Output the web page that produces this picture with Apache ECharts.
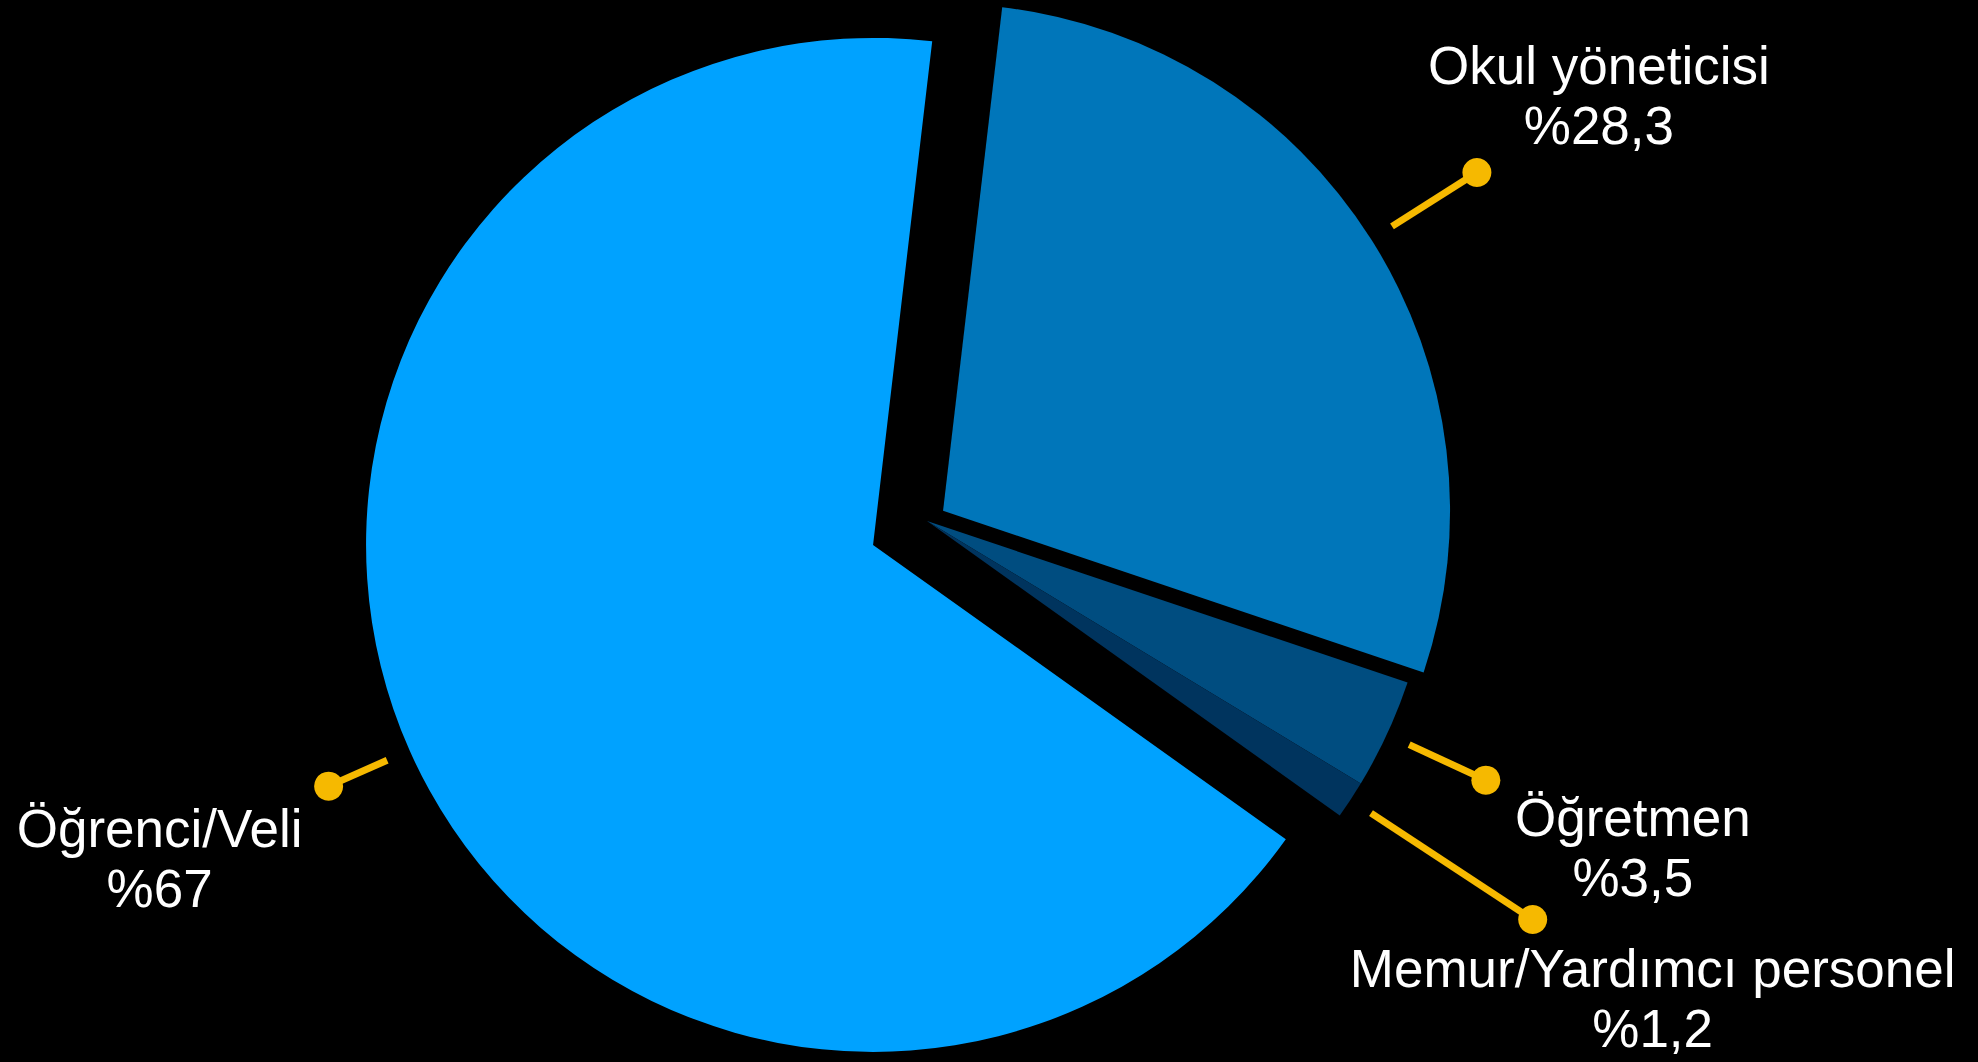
<!DOCTYPE html>
<html>
<head>
<meta charset="utf-8">
<script src="https://cdn.jsdelivr.net/npm/echarts@6/dist/echarts.min.js"></script>
<style>
  html, body { margin: 0; padding: 0; background: #000; }
  #chart { width: 1978px; height: 1062px; }
</style>
</head>
<body>
<div id="chart"></div>
<script>
// ---- data ----
const categories = ['Okul yöneticisi', 'Öğretmen', 'Memur/Yardımcı personel', 'Öğrenci/Veli'];
const values = [28.3, 3.5, 1.2, 67];
const colors = ['#0076BA', '#004D80', '#00345E', '#00A2FF'];

// ---- layout / style ----
const CENTER = [927, 521];
const RADIUS = 507;
const START = 6.7;                       // degrees clockwise from 12 o'clock
const explode = [19, 0, 0, 59];          // slice offsets (px)
const leaderStart = 531.5;
const leaderEnd = [632, 616, 725, 595.5];
const labelOffset = [[122, -107], [147, 37], [120, 49], [-169, 42]];
const LINE_GAP = 60;
const GOLD = '#F6B900';
const FONT = '53px "Liberation Sans", Arial, sans-serif';

const total = values.reduce((a, b) => a + b, 0);
function fmt(v) { return '%' + String(v).replace('.', ','); }
function geom(i) {
  let cum = 0;
  for (let k = 0; k < i; k++) cum += values[k];
  const mid = (START + 360 * (cum + values[i] / 2) / total) * Math.PI / 180;
  const dx = Math.sin(mid), dy = -Math.cos(mid);
  return { dx, dy, cx: CENTER[0] + explode[i] * dx, cy: CENTER[1] + explode[i] * dy };
}

// one pie series per offset group
const offsets = Array.from(new Set(explode));
const pieSeries = offsets.map(off => ({
  type: 'pie',
  center: CENTER,
  radius: [0, RADIUS],
  startAngle: 90 - START,
  clockwise: true,
  selectedMode: 'multiple',
  selectedOffset: off,
  avoidLabelOverlap: false,
  minAngle: 0,
  label: { show: false },
  labelLine: { show: false },
  emphasis: { scale: false, disabled: true },
  itemStyle: { borderWidth: 0 },
  select: { itemStyle: { borderWidth: 0 } },
  animation: false,
  data: categories.map((name, i) => {
    const mine = explode[i] === off;
    const c = mine ? colors[i] : 'rgba(0,0,0,0)';
    return {
      name, value: values[i],
      selected: mine && off > 0,
      itemStyle: { color: c },
      select: { itemStyle: { color: c } }
    };
  })
}));

const labelSeries = {
  type: 'custom',
  coordinateSystem: 'none',
  silent: true,
  z: 10,
  animation: false,
  data: values.map((v, i) => [i, v]),
  renderItem(params) {
    const i = params.dataIndex;
    const g = geom(i);
    const x1 = g.cx + leaderStart * g.dx, y1 = g.cy + leaderStart * g.dy;
    const x2 = g.cx + leaderEnd[i] * g.dx, y2 = g.cy + leaderEnd[i] * g.dy;
    const tx = x2 + labelOffset[i][0], ty = y2 + labelOffset[i][1];
    return {
      type: 'group',
      children: [
        { type: 'line', shape: { x1, y1, x2, y2 }, style: { stroke: GOLD, lineWidth: 7 } },
        { type: 'circle', shape: { cx: x2, cy: y2, r: 14.5 }, style: { fill: GOLD } },
        { type: 'text', style: { text: categories[i], x: tx, y: ty, fill: '#fff', font: FONT, align: 'center', verticalAlign: 'middle' } },
        { type: 'text', style: { text: fmt(values[i]), x: tx, y: ty + LINE_GAP, fill: '#fff', font: FONT, align: 'center', verticalAlign: 'middle' } }
      ]
    };
  }
};

const chart = echarts.init(document.getElementById('chart'), null, { renderer: 'svg' });
chart.setOption({
  backgroundColor: '#000',
  animation: false,
  series: pieSeries.concat([labelSeries])
});
</script>
</body>
</html>
